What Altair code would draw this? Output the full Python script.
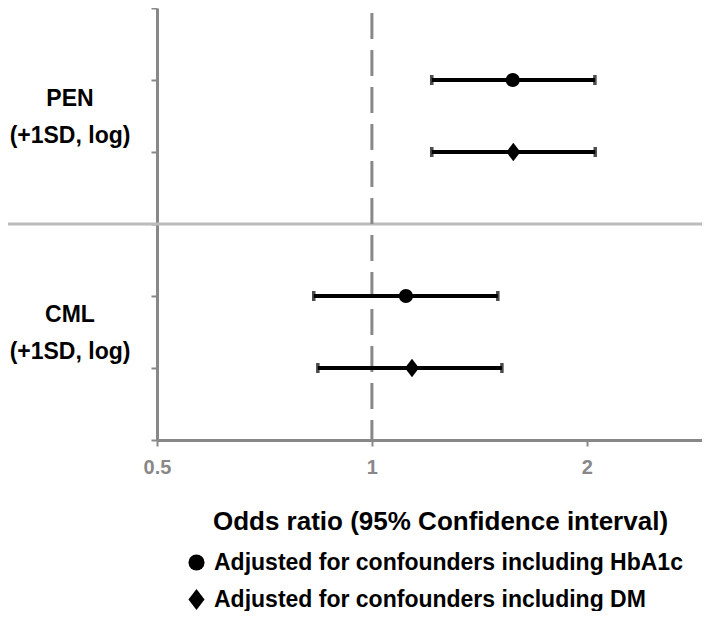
import altair as alt
import pandas as pd

# ---- data ----
outcomes = ["PEN", "PEN", "CML", "CML"]
models = [
    "Adjusted for confounders including HbA1c",
    "Adjusted for confounders including DM",
    "Adjusted for confounders including HbA1c",
    "Adjusted for confounders including DM",
]
rows = [1, 2, 4, 5]
odds = [1.575, 1.578, 1.116, 1.138]
lower = [1.213, 1.213, 0.829, 0.840]
upper = [2.053, 2.055, 1.501, 1.521]

group_labels = ["PEN\n(+1SD, log)", "CML\n(+1SD, log)"]
group_rows = [1.5, 4.5]
x_ticks = [0.5, 1, 2]
row_ticks = [0, 1, 2, 3, 4, 5, 6]
separator_row = [3]
reference_or = [1]
model_order = [
    "Adjusted for confounders including HbA1c",
    "Adjusted for confounders including DM",
]

df = pd.DataFrame({"outcome": outcomes, "model": models, "row": rows,
                   "or": odds, "lo": lower, "hi": upper})
lab_df = pd.DataFrame({"label": group_labels, "row": group_rows})
sep_df = pd.DataFrame({"row": separator_row})
ref_df = pd.DataFrame({"x": reference_or})

W, H = 545, 432
AX = "#888888"
FONT = "Liberation Sans"
DIAMOND = "M0,-1.3L1,0L0,1.3L-1,0Z"

xscale = alt.Scale(type="log", domain=[0.5, 2.9], nice=False)
yscale = alt.Scale(domain=[0, 6], reverse=True, nice=False)

x_axis = alt.Axis(
    values=x_ticks, format="~g", grid=False, labelFlush=False,
    domainColor=AX, domainWidth=3, tickColor=AX, tickWidth=2, tickSize=6,
    labelColor=AX, labelFontSize=20, labelFontWeight="bold", labelPadding=11,
    labelFont=FONT,
    title="Odds ratio (95% Confidence interval)",
    titleFontSize=26, titleFontWeight="bold", titleColor="#000000",
    titleFont=FONT, titlePadding=31, titleX=283, titleAlign="center",
)
y_axis = alt.Axis(
    values=row_ticks, labels=False, grid=False, title=None,
    domainColor=AX, domainWidth=3, tickColor=AX, tickWidth=2, tickSize=6,
)

base = alt.Chart(df)

ci = base.mark_rule(color="black", strokeWidth=4).encode(
    x=alt.X("lo:Q", scale=xscale, axis=x_axis),
    x2="hi:Q",
    y=alt.Y("row:Q", scale=yscale, axis=y_axis),
)
cap_lo = base.mark_tick(orient="vertical", size=10, thickness=3.5, color="black").encode(
    x=alt.X("lo:Q", scale=xscale), y=alt.Y("row:Q", scale=yscale)
)
cap_hi = base.mark_tick(orient="vertical", size=10, thickness=3.5, color="black").encode(
    x=alt.X("hi:Q", scale=xscale), y=alt.Y("row:Q", scale=yscale)
)
pts = base.mark_point(filled=True, color="black", opacity=1, size=200).encode(
    x=alt.X("or:Q", scale=xscale),
    y=alt.Y("row:Q", scale=yscale),
    shape=alt.Shape(
        "model:N",
        scale=alt.Scale(domain=model_order, range=["circle", DIAMOND]),
        legend=alt.Legend(
            title=None, orient="none", legendX=28, legendY=543,
            labelFontSize=23, labelFontWeight="bold", labelColor="#000000",
            labelFont=FONT, labelLimit=0, labelOffset=6,
            symbolSize=260, symbolFillColor="black", symbolStrokeColor="black",
            rowPadding=11,
        ),
    ),
)

sep = alt.Chart(sep_df).mark_rule(color="#bbbbbb", strokeWidth=3).encode(
    y=alt.Y("row:Q", scale=yscale),
    x=alt.value(-149),
    x2=alt.value(W),
)
ref = alt.Chart(ref_df).mark_rule(color=AX, strokeWidth=3, strokeDash=[26, 11]).encode(
    x=alt.X("x:Q", scale=xscale),
    y=alt.value(5),
    y2=alt.value(H),
)
labels = alt.Chart(lab_df).mark_text(
    lineBreak="\n", lineHeight=37, fontSize=23, fontWeight="bold",
    font=FONT, color="#000000", align="center", baseline="middle", dy=-17,
).encode(
    y=alt.Y("row:Q", scale=yscale),
    x=alt.value(-87),
    text="label:N",
)

chart = alt.layer(sep, ref, ci, cap_lo, cap_hi, pts, labels).properties(
    width=W, height=H,
    autosize=alt.AutoSizeParams(type="none"),
    padding={"left": 149, "top": 0, "right": 0, "bottom": 171},
).configure_view(stroke=None)

chart.save("out.html", embed_options={"renderer": "svg", "actions": False})
